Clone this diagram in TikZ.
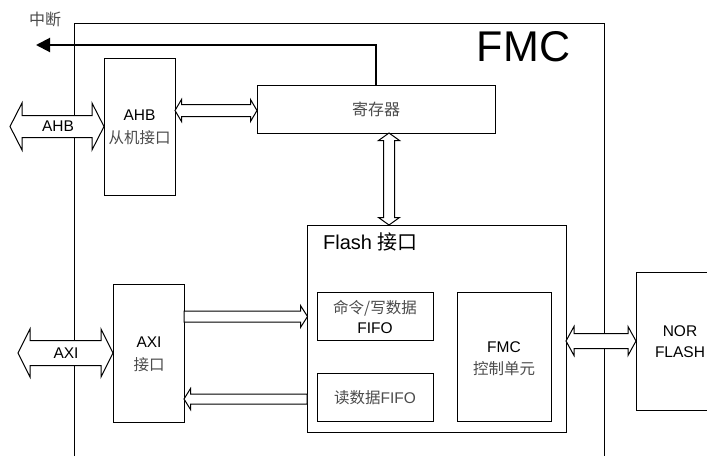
\documentclass[tikz,border=0pt]{standalone}
\usepackage{fontspec}
\setmainfont{Liberation Sans}
\newfontfamily\cjk{Noto Sans CJK SC}
\usetikzlibrary{arrows.meta}
\tikzset{
  box/.style={draw=black, line width=1pt, fill=white, inner sep=0pt},
  fat/.style={draw=black, line width=1pt, fill=white, line join=miter},
  lat/.style={font=\fontsize{15.5}{17}\selectfont, text=black, inner sep=0pt},
  zh/.style={font=\cjk\fontsize{15.5}{17}\selectfont, text=black!70, inner sep=0pt},
  intline/.style={line width=2pt, -{Triangle[length=14pt,width=14pt]}},
}
% horizontal double-headed block arrow: x1 x2 y shaft-half head-half head-length
\newcommand\fatdh[6]{\draw[fat] (#1,#3) -- ({#1+#6},{#3-#5}) -- ({#1+#6},{#3-#4}) -- ({#2-#6},{#3-#4}) -- ({#2-#6},{#3-#5}) -- (#2,#3) -- ({#2-#6},{#3+#5}) -- ({#2-#6},{#3+#4}) -- ({#1+#6},{#3+#4}) -- ({#1+#6},{#3+#5}) -- cycle;}
% vertical double-headed block arrow: y1 y2 x shaft-half head-half head-length
\newcommand\fatdv[6]{\draw[fat] (#3,#1) -- ({#3-#5},{#1+#6}) -- ({#3-#4},{#1+#6}) -- ({#3-#4},{#2-#6}) -- ({#3-#5},{#2-#6}) -- (#3,#2) -- ({#3+#5},{#2-#6}) -- ({#3+#4},{#2-#6}) -- ({#3+#4},{#1+#6}) -- ({#3+#5},{#1+#6}) -- cycle;}
% right-pointing block arrow: tail x1, tip x2
\newcommand\fatr[6]{\draw[fat] (#1,{#3-#4}) -- ({#2-#6},{#3-#4}) -- ({#2-#6},{#3-#5}) -- (#2,#3) -- ({#2-#6},{#3+#5}) -- ({#2-#6},{#3+#4}) -- (#1,{#3+#4}) -- cycle;}
% left-pointing block arrow: tip x1, tail x2
\newcommand\fatl[6]{\draw[fat] (#2,{#3-#4}) -- ({#1+#6},{#3-#4}) -- ({#1+#6},{#3-#5}) -- (#1,#3) -- ({#1+#6},{#3+#5}) -- ({#1+#6},{#3+#4}) -- (#2,{#3+#4}) -- cycle;}
\begin{document}
\begin{tikzpicture}[x=1pt,y=-1pt]
\useasboundingbox (0,0) rectangle (707,456);
\fill[white] (0,0) rectangle (707,456);

% FMC outer frame (open at bottom)
\draw[line width=1pt] (74,456) -- (74,23) -- (604,23) -- (604,456);
\node[font=\fontsize{43}{45}\selectfont, inner sep=0pt] (fmct) at (523.5,47) {FMC};

% interrupt label
\node[zh, font=\cjk\fontsize{16}{18}\selectfont] (intl) at (45,19) {中断};

% boxes
\node[box, minimum width=71pt, minimum height=137pt] (ahbs) at (139.5,126.5) {};
\node[box, minimum width=238pt, minimum height=48pt] (reg) at (376,109) {};
\node[box, minimum width=259pt, minimum height=207pt] (flash) at (436.5,328.5) {};
\node[box, minimum width=116pt, minimum height=48pt] (cmd) at (375,316) {};
\node[box, minimum width=116pt, minimum height=48pt] (rd) at (375,397) {};
\node[box, minimum width=94pt, minimum height=129pt] (ctrl) at (504,356.5) {};
\node[box, minimum width=71pt, minimum height=138pt] (axi) at (148.5,353) {};
\draw[line width=1pt] (707,272) -- (636,272) -- (636,410) -- (707,410);
\coordinate (nor) at (671.5,341);

% interrupt connector
\coordinate (intend) at (36,45);
\draw[intline] (reg.north) |- (intend);

% block arrows
\fatdh{10}{104}{126.5}{11}{23.5}{12}
\fatdh{18}{113}{353}{12.5}{24}{12}
\fatdh{175}{257}{110.5}{6}{11}{6.5}
\fatdv{133}{225}{389}{5.5}{10.5}{7.5}
\fatdh{566}{636}{341}{7.5}{14.5}{8}
\fatr{184}{307.5}{316.5}{5.5}{11}{7}
\fatl{184}{307}{399}{5}{10.5}{6.5}

% texts
\node[lat] (ahbl) at (58,126) {AHB};
\node[lat] (axil) at (66,353) {AXI};
\node[lat] (t1) at (139.5,115.5) {AHB};
\node[zh] (t2) at (139.5,137.5) {从机接口};
\node[zh, font=\cjk\fontsize{16}{18}\selectfont] (t3) at (376,109.5) {寄存器};
\node[lat, font=\fontsize{20}{22}\selectfont, anchor=west] (t4) at (323,242) {Flash \cjk 接口};
\node[zh] (t5) at (375,308) {命令/写数据};
\node[lat] (t6) at (375,328.5) {FIFO};
\node[zh] (t7) at (375,397.5) {读数据\fontspec{Liberation Sans}FIFO};
\node[lat] (t8) at (504,347) {FMC};
\node[zh] (t9) at (504,368.5) {控制单元};
\node[lat] (t10) at (680,331.5) {NOR};
\node[lat] (t11) at (680,352.5) {FLASH};
\node[lat] (t12) at (149,342.5) {AXI};
\node[zh] (t13) at (149,364.5) {接口};
\end{tikzpicture}
\end{document}
